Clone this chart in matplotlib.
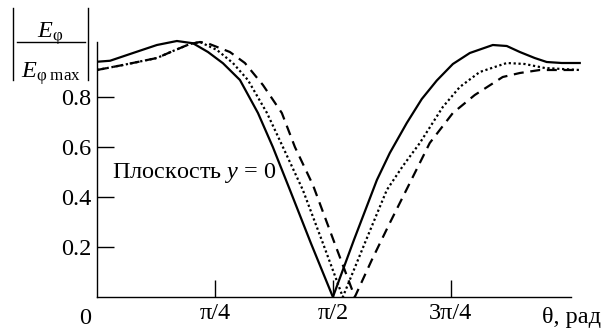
import numpy as np
import matplotlib
matplotlib.use("Agg")
import matplotlib.pyplot as plt

plt.rcParams["font.family"] = ["Liberation Serif", "DejaVu Serif"]
plt.rcParams["mathtext.fontset"] = "custom"
plt.rcParams["mathtext.rm"] = "Liberation Serif"
plt.rcParams["mathtext.it"] = "Liberation Serif:italic"

# Normalised field pattern |E_phi / E_phi max| versus theta (rad), plane y = 0
theta_solid = [0.000, 0.087, 0.240, 0.399, 0.532, 0.639, 0.739, 0.839, 0.952,
               1.072, 1.171, 1.285, 1.424, 1.571, 1.711, 1.864, 1.950, 2.063,
               2.163, 2.263, 2.370, 2.483, 2.636, 2.729, 2.816, 2.915, 2.995,
               3.095, 3.215]
field_solid = [0.941, 0.945, 0.976, 1.008, 1.024, 1.015, 0.980, 0.935, 0.868,
               0.736, 0.600, 0.428, 0.216, 0.000, 0.228, 0.468, 0.576, 0.696,
               0.792, 0.866, 0.932, 0.976, 1.008, 1.004, 0.980, 0.956, 0.940,
               0.936, 0.936]

theta_dot = [0.000, 0.173, 0.399, 0.506, 0.619, 0.686, 0.799, 0.905, 1.005,
             1.132, 1.238, 1.371, 1.504, 1.637, 1.784, 1.930, 2.037, 2.150,
             2.303, 2.416, 2.549, 2.729, 2.849, 2.982, 3.215]
field_dot = [0.908, 0.928, 0.956, 0.984, 1.012, 1.020, 0.988, 0.936, 0.868,
             0.736, 0.600, 0.428, 0.216, 0.000, 0.216, 0.428, 0.524, 0.616,
             0.760, 0.840, 0.900, 0.936, 0.932, 0.916, 0.908]

theta_dash = [0.000, 0.173, 0.399, 0.506, 0.619, 0.686, 0.732, 0.885, 0.985,
              1.105, 1.231, 1.318, 1.438, 1.577, 1.717, 1.830, 1.950, 2.070,
              2.216, 2.370, 2.516, 2.702, 2.816, 2.949, 3.215]
field_dash = [0.908, 0.928, 0.956, 0.984, 1.012, 1.020, 1.016, 0.980, 0.936,
              0.848, 0.736, 0.600, 0.448, 0.224, 0.000, 0.148, 0.296, 0.440,
              0.616, 0.736, 0.808, 0.880, 0.896, 0.908, 0.908]

x_ticks = [np.pi / 4, np.pi / 2, 3 * np.pi / 4]
x_tick_labels = ["π/4", "π/2", "3π/4"]
y_ticks = [0.2, 0.4, 0.6, 0.8]
y_tick_labels = ["0.2", "0.4", "0.6", "0.8"]

FS = 17.5
W, H = 603, 329
YTOP = 1.04
fig = plt.figure(figsize=(W / 100, H / 100), dpi=100)
ax = fig.add_axes([97 / W, 32 / H, (585 - 97) / W, 250 * YTOP / H])

ax.plot(theta_solid, field_solid, color="black", lw=1.6, solid_joinstyle="round")
ax.plot(theta_dot, field_dot, color="black", lw=1.6, linestyle=(0, (1, 1.2)))
ax.plot(theta_dash, field_dash, color="black", lw=1.6, linestyle=(0, (4.5, 3)))

ax.set_xlim(0, 3.25)
ax.set_ylim(0, YTOP)
for side in ("top", "right"):
    ax.spines[side].set_visible(False)
ax.spines["left"].set_bounds(0, 1.02)
ax.spines["bottom"].set_bounds(0, 3.16)
for side in ("left", "bottom"):
    ax.spines[side].set_linewidth(1.0)

ax.set_xticks(x_ticks)
ax.set_xticklabels(x_tick_labels)
ax.set_yticks(y_ticks)
ax.set_yticklabels(y_tick_labels)
ax.tick_params(direction="in", length=12.5, width=1.0, labelsize=FS, pad=4)

ax.text(0.10, 0.496, "Плоскость $y$ = 0", fontsize=FS, ha="left", va="center")

fig.text(85 / W, 1 - 318 / H, "0", fontsize=FS, ha="center", va="center")
fig.text(571 / W, 1 - 318 / H, "θ, рад", fontsize=FS, ha="center", va="center")

# Axis title: |E_phi / E_phi max| drawn as a stacked fraction between bars
fig.text(50 / W, 1 - 38 / H, r"$E_{\mathrm{φ}}$", fontsize=FS, ha="center", va="baseline")
fig.text(51 / W, 1 - 78 / H, r"$E_{\mathrm{φ\ max}}$", fontsize=FS, ha="center", va="baseline")
fig.add_artist(plt.Line2D([17 / W, 85 / W], [1 - 42 / H, 1 - 42 / H], color="black", lw=1.0))
for xb in (13, 88):
    fig.add_artist(plt.Line2D([xb / W, xb / W], [1 - 8 / H, 1 - 80 / H], color="black", lw=1.0))

fig.savefig("out.png", dpi=100)
